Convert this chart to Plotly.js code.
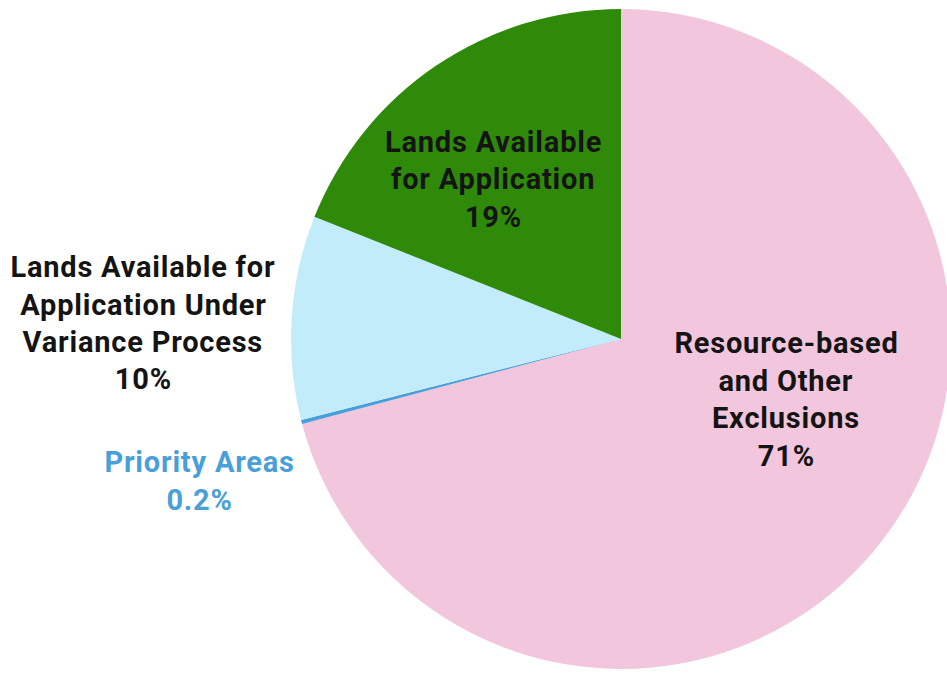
<!DOCTYPE html>
<html>
<head>
<meta charset="utf-8">
<script src="https://cdn.plot.ly/plotly-3.0.1.min.js"></script>
<style>
  html, body { margin: 0; padding: 0; background: #ffffff; overflow: hidden; }
  #chart { width: 960px; height: 675px; }
  #chart .annotation-text { letter-spacing: 0.8px; }
</style>
</head>
<body>
<div id="chart"></div>
<script>
// Data
const labels = ["Resource-based and Other Exclusions", "Priority Areas", "Lands Available for Application Under Variance Process", "Lands Available for Application"];
const values = [71, 0.2, 10, 19];
const percentLabels = ["71%", "0.2%", "10%", "19%"];
const labelLines = [
  ["Resource-based", "and Other", "Exclusions"],
  ["Priority Areas"],
  ["Lands Available for", "Application Under", "Variance Process"],
  ["Lands Available", "for Application"]
];
const colors = ["#F2C6DD", "#4A9FD8", "#C3ECFA", "#2F8A0A"];
const textColors = ["#141414", "#4A9FD8", "#141414", "#141414"];

// Label placement (pixel centre x, first line y, line step)
const W = 960, H = 675;
const labelPos = [
  {x: 786, y: 343},
  {x: 199, y: 462},
  {x: 143, y: 267},
  {x: 493, y: 142}
];
const lineStep = 37.5;

const annotations = [];
labelLines.forEach((lines, i) => {
  const all = lines.concat([percentLabels[i]]);
  all.forEach((t, j) => {
    annotations.push({
      xref: 'paper', yref: 'paper',
      x: labelPos[i].x / W,
      y: 1 - (labelPos[i].y + j * lineStep) / H,
      xanchor: 'center', yanchor: 'middle',
      text: t, showarrow: false,
      font: {family: 'Roboto, Arial, sans-serif', size: 29, color: textColors[i], weight: 'bold'}
    });
  });
});

const trace = {
  type: 'pie',
  labels: labels,
  values: values,
  sort: false,
  direction: 'clockwise',
  rotation: 0,
  textinfo: 'none',
  hoverinfo: 'label+percent',
  marker: {colors: colors, line: {color: '#ffffff', width: 0}},
  domain: {x: [291 / W, 951 / W], y: [6 / H, 666 / H]},
  showlegend: false
};

const layout = {
  width: W, height: H,
  margin: {l: 0, r: 0, t: 0, b: 0},
  paper_bgcolor: '#ffffff',
  plot_bgcolor: '#ffffff',
  showlegend: false,
  annotations: annotations
};

Plotly.newPlot('chart', [trace], layout, {displayModeBar: false, staticPlot: true});
</script>
</body>
</html>
